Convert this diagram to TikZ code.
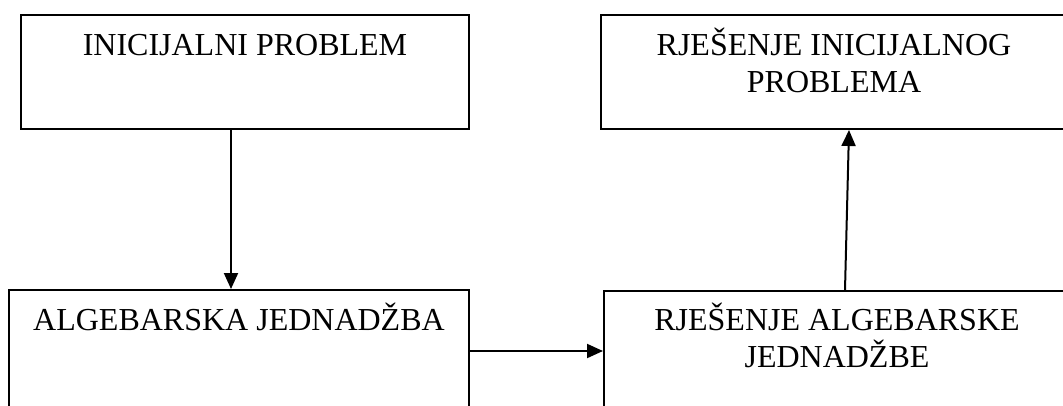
\documentclass[tikz,border=0pt]{standalone}
\usepackage{fontspec}
\setmainfont{Liberation Serif}
\usetikzlibrary{arrows.meta}

\begin{document}
\begin{tikzpicture}
[x=1pt,y=1pt,
 box/.style={draw,line width=2pt,inner sep=0pt,anchor=north west},
 txt/.style={anchor=base,align=center,inner sep=0pt,font=\fontsize{32}{37}\selectfont},
 arr/.style={line width=2pt,-{Triangle[length=16pt,width=14pt]}}]
\useasboundingbox (0,0) rectangle (1063,-405);
\clip (0,0) rectangle (1063,-405);

\node[box,minimum width=448pt,minimum height=114pt] (ip) at (20,-14) {};
\node[box,minimum width=466pt,minimum height=114pt] (rip) at (600,-14) {};
\node[box,minimum width=460pt,minimum height=140pt] (aj) at (8,-289) {};
\node[box,minimum width=466pt,minimum height=140pt] (raj) at (603,-290) {};

% two-line texts sit on the base of their last line
\node[txt] (ipt) at ([yshift=-41pt]ip.north) {INICIJALNI PROBLEM};
\node[txt] (ript) at ([yshift=-78pt]rip.north) {RJEŠENJE INICIJALNOG\\PROBLEMA};
\node[txt] (ajt) at ([yshift=-41pt]aj.north) {ALGEBARSKA JEDNADŽBA};
\node[txt] (rajt) at ([yshift=-77pt]raj.north) {RJEŠENJE ALGEBARSKE\\JEDNADŽBE};

\draw[arr] ([xshift=-14pt]ip.south) -- ([xshift=-8pt]aj.north);
\draw[arr] ([yshift=-62pt]aj.north east) -- ([yshift=-61pt]raj.north west);
\draw[arr] ([xshift=8pt]raj.north) -- ([xshift=15pt]rip.south);
\end{tikzpicture}
\end{document}
